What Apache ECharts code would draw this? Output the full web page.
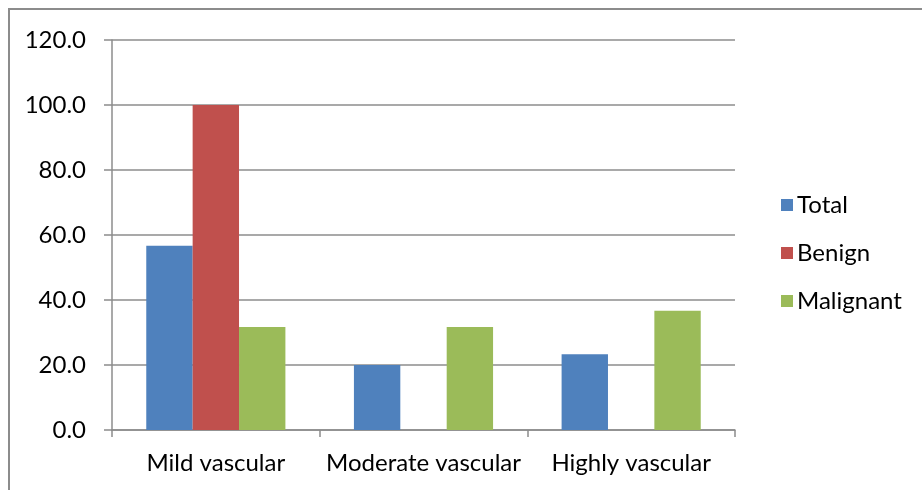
<!DOCTYPE html>
<html>
<head>
<meta charset="utf-8">
<script src="https://cdn.jsdelivr.net/npm/echarts@6/dist/echarts.min.js"></script>
<style>
  html, body { margin: 0; padding: 0; background: #fff; }
  #chart { width: 922px; height: 490px; }
</style>
</head>
<body>
<div id="chart"></div>
<script>
var categories = ['Mild vascular', 'Moderate vascular', 'Highly vascular']
var total = [56.7, 20.0, 23.3]
var benign = [100.0, 0, 0]
var malignant = [31.7, 31.7, 36.7]
var yTicks = { min: 0, max: 120, interval: 20 }

var font = 'Lato, "Open Sans", sans-serif'
var chart = echarts.init(document.getElementById('chart'))
chart.setOption({
  animation: false,
  textStyle: { fontFamily: font },
  graphic: [{
    type: 'rect',
    shape: { x: 9, y: 9, width: 1000, height: 1000 },
    style: { fill: 'none', stroke: '#8c8c8c', lineWidth: 2 }
  }],
  grid: { left: 112, right: 187, top: 40, bottom: 60 },
  legend: {
    orient: 'vertical',
    left: 776,
    top: 188,
    itemWidth: 12,
    itemHeight: 12,
    itemGap: 24,
    icon: 'rect',
    textStyle: { fontSize: 24, color: '#000', fontFamily: font, padding: [0, 0, 0, -1] },
    data: ['Total', 'Benign', 'Malignant']
  },
  xAxis: {
    type: 'category',
    data: categories,
    axisLine: { lineStyle: { color: '#8c8c8c', width: 1.5 } },
    axisTick: { show: true, length: 7, lineStyle: { color: '#8c8c8c', width: 1.5 } },
    axisLabel: { fontSize: 24, color: '#000', margin: 21, interval: 0, fontFamily: font }
  },
  yAxis: {
    type: 'value',
    min: yTicks.min,
    max: yTicks.max,
    interval: yTicks.interval,
    axisLine: { show: true, lineStyle: { color: '#8c8c8c', width: 1.5 } },
    axisTick: { show: true, length: 8, lineStyle: { color: '#8c8c8c', width: 1.5 } },
    axisLabel: {
      fontSize: 24, color: '#000', margin: 26, fontFamily: font,
      formatter: function (v) { return v.toFixed(1) }
    },
    splitLine: { lineStyle: { color: '#8c8c8c', width: 1.5 } }
  },
  series: [
    { name: 'Total', type: 'bar', data: total, barGap: '0%', barCategoryGap: '33%', itemStyle: { color: '#4F81BD' } },
    { name: 'Benign', type: 'bar', data: benign, itemStyle: { color: '#C0504D' } },
    { name: 'Malignant', type: 'bar', data: malignant, itemStyle: { color: '#9BBB59' } }
  ]
})
</script>
</body>
</html>
